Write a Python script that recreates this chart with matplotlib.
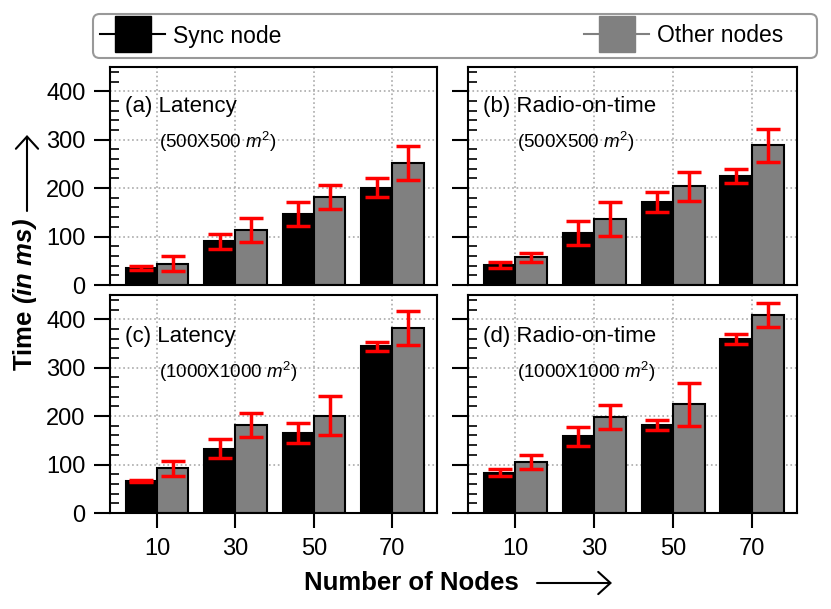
import matplotlib
matplotlib.use("Agg")
import matplotlib.pyplot as plt
import numpy as np
from matplotlib.lines import Line2D
from matplotlib.patches import FancyBboxPatch, FancyArrowPatch
from matplotlib.ticker import MultipleLocator

plt.rcParams['font.family'] = ['Liberation Sans', 'DejaVu Sans']
plt.rcParams['mathtext.fontset'] = 'custom'
plt.rcParams['mathtext.rm'] = 'Liberation Sans'
plt.rcParams['mathtext.it'] = 'Liberation Sans:italic'
plt.rcParams['mathtext.bf'] = 'Liberation Sans:bold'
plt.rcParams['mathtext.bfit'] = 'Liberation Sans:bold:italic'

categories = ['10', '30', '50', '70']
series_names = ['Sync node', 'Other nodes']

# (a) Latency 500x500
lat500_sync = [35, 90, 146, 201]
lat500_sync_err = [5, 15, 25, 20]
lat500_other = [44, 113, 182, 251]
lat500_other_err = [15, 25, 25, 35]
# (b) Radio-on-time 500x500
rot500_sync = [42, 107, 171, 225]
rot500_sync_err = [6, 25, 20, 15]
rot500_other = [57, 136, 204, 288]
rot500_other_err = [10, 35, 30, 35]
# (c) Latency 1000x1000
lat1000_sync = [67, 133, 165, 344]
lat1000_sync_err = [2, 20, 20, 10]
lat1000_other = [92, 181, 201, 381]
lat1000_other_err = [15, 25, 40, 35]
# (d) Radio-on-time 1000x1000
rot1000_sync = [83, 158, 181, 359]
rot1000_sync_err = [7, 20, 10, 10]
rot1000_other = [105, 198, 224, 408]
rot1000_other_err = [15, 25, 45, 25]

panels = [
    ('(a) Latency', r'(500X500 $m^2$)', lat500_sync, lat500_sync_err, lat500_other, lat500_other_err),
    ('(b) Radio-on-time', r'(500X500 $m^2$)', rot500_sync, rot500_sync_err, rot500_other, rot500_other_err),
    ('(c) Latency', r'(1000X1000 $m^2$)', lat1000_sync, lat1000_sync_err, lat1000_other, lat1000_other_err),
    ('(d) Radio-on-time', r'(1000X1000 $m^2$)', rot1000_sync, rot1000_sync_err, rot1000_other, rot1000_other_err),
]

W, H = 831, 609
fig = plt.figure(figsize=(W / 100, H / 100), dpi=100)

def rect(l, t, r, b):
    return [l / W, 1 - b / H, (r - l) / W, (b - t) / H]

def fx(px):
    return px / W

def fy(py):
    return 1 - py / H

rects = [rect(110, 67, 437, 285), rect(468, 67, 797, 285),
         rect(110, 295, 437, 513), rect(468, 295, 797, 513)]

x = np.arange(len(categories))
bw = 0.4
black = '#000000'
gray = '#808080'

for i, (title, sub, s, se, o, oe) in enumerate(panels):
    ax = fig.add_axes(rects[i])
    ax.set_axisbelow(True)
    ax.bar(x - bw / 2, s, bw, color=black, edgecolor='black', linewidth=1.5, zorder=2)
    ax.bar(x + bw / 2, o, bw, color=gray, edgecolor='black', linewidth=1.5, zorder=2)
    ax.errorbar(x - bw / 2, s, yerr=se, fmt='none', ecolor='red', elinewidth=2.5,
                capsize=8.5, capthick=2.5, zorder=3)
    ax.errorbar(x + bw / 2, o, yerr=oe, fmt='none', ecolor='red', elinewidth=2.5,
                capsize=8.5, capthick=2.5, zorder=3)
    ax.set_xlim(-0.6, 3.57)
    ax.set_ylim(0, 450)
    ax.set_xticks(x)
    ax.yaxis.set_major_locator(MultipleLocator(100))
    ax.yaxis.set_minor_locator(MultipleLocator(20))
    ax.grid(True, which='major', linestyle=':', color='#aaaaaa', linewidth=1.2)
    for sp in ax.spines.values():
        sp.set_linewidth(1.5)
    ax.tick_params(axis='y', which='major', direction='out', length=11.5, width=1.5,
                   labelsize=17, pad=6, left=True, right=False)
    ax.tick_params(axis='y', which='minor', direction='in', length=6.5, width=1.2,
                   left=True, right=False)
    if i >= 2:
        ax.set_xticklabels(categories)
        ax.tick_params(axis='x', which='major', direction='out', length=11, width=1.5,
                       labelsize=17, pad=7)
    else:
        ax.tick_params(axis='x', which='major', length=0, labelbottom=False)
    if i % 2 == 1:
        ax.tick_params(axis='y', labelleft=False)
    ty = 0.82 if i < 2 else 0.81
    ax.text(0.045, ty, title, transform=ax.transAxes, fontsize=16, va='center', ha='left')
    ax.text(0.15, ty - 0.165, sub, transform=ax.transAxes, fontsize=13.5, va='center', ha='left')

# legend frame
frame = FancyBboxPatch((fx(93), fy(58)), fx(817) - fx(93), fy(14) - fy(58),
                       boxstyle='round,pad=0,rounding_size=0.008',
                       transform=fig.transFigure, fc='white', ec='#999999', lw=1.5,
                       mutation_aspect=W / H)
fig.patches.append(frame)

handles = [Line2D([], [], color=black, marker='s', markersize=26, linewidth=1.5),
           Line2D([], [], color=gray, marker='s', markersize=26, linewidth=1.5)]
leg = fig.legend(handles, series_names, loc='center left', ncol=2,
                 bbox_to_anchor=(fx(100), fy(36)), fontsize=16.5, frameon=False,
                 borderaxespad=0, borderpad=0, handlelength=2.84, handletextpad=0.35,
                 columnspacing=13.2)

# axis labels with long arrows
fig.text(fx(25), fy(295), r'Time $\mathbfit{(in\ ms)}$', rotation=90,
         fontsize=18.5, fontweight='bold', ha='center', va='center')
fig.text(fx(411), fy(583), 'Number of Nodes',
         fontsize=18.5, fontweight='bold', ha='center', va='center')
arrow_kw = dict(arrowstyle='->,head_length=0.22,head_width=0.2', color='black',
                lw=1.5, mutation_scale=40, shrinkA=0, shrinkB=0)
fig.add_artist(FancyArrowPatch((fx(27), fy(211)), (fx(27), fy(135)),
                               transform=fig.transFigure, **arrow_kw))
fig.add_artist(FancyArrowPatch((fx(537), fy(583)), (fx(612), fy(583)),
                               transform=fig.transFigure, **arrow_kw))

fig.savefig('out.png', dpi=100)
